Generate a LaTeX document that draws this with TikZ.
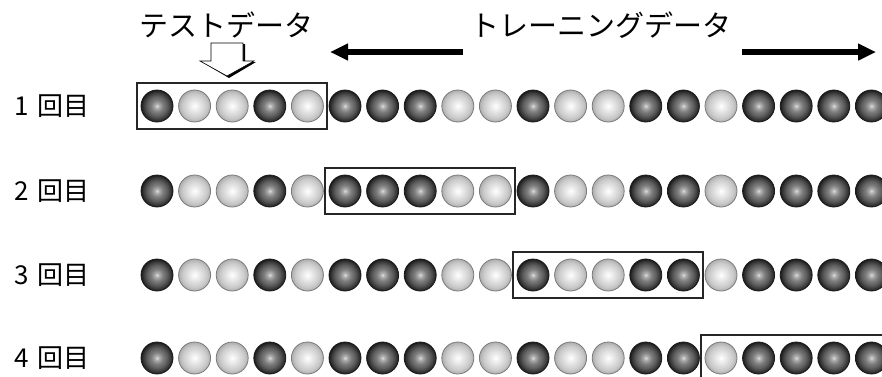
\documentclass[tikz,border=0pt]{standalone}
\usepackage{fontspec}
\setmainfont{Noto Sans CJK JP}
\usetikzlibrary{arrows.meta,fit}
\pgfdeclareradialshading{darkball}{\pgfpoint{0bp}{0bp}}{color(0bp)=(white!88!black); color(3bp)=(white!70!black); color(9bp)=(black!50); color(16bp)=(black!64); color(22bp)=(black!80); color(25bp)=(black!90); color(100bp)=(black!90)}
\pgfdeclareradialshading{lightball}{\pgfpoint{0bp}{0bp}}{color(0bp)=(white); color(8bp)=(white!91!black); color(19bp)=(white!79!black); color(25bp)=(white!68!black); color(100bp)=(white!68!black)}
\tikzset{
  ball/.style={circle, minimum size=32pt, inner sep=0pt},
  dk/.style={ball, shading=darkball, draw=black!90, line width=0.8pt},
  lt/.style={ball, shading=lightball, draw=black!52, line width=0.8pt},
  foldbox/.style={draw=black!85, line width=2pt, inner xsep=3.5pt, inner ysep=7pt},
  title/.style={font=\fontsize{29}{29}\selectfont, inner sep=0pt},
  rowlabel/.style={font=\fontsize{26}{26}\selectfont, inner sep=0pt, anchor=west},
  bigarrow/.style={line width=6pt, -{Triangle[length=18pt,width=16pt]}}
}
\begin{document}
\begin{tikzpicture}[x=1pt,y=-1pt]
\useasboundingbox (0,0) rectangle (882,376);
\clip (0,0) rectangle (882,376);
% titles
\node[title] (test) at (226,25) {テストデータ};
\node[title] (train) at (601,25) {トレーニングデータ};
\coordinate (la) at (463,52); \coordinate (lb) at (330,52);
\coordinate (ra) at (742,52); \coordinate (rb) at (876,52);
\draw[bigarrow] (la) -- (lb);
\draw[bigarrow] (ra) -- (rb);
% hollow down arrow with shadow
\fill[black] (213,44) -- (245,44) -- (245,62) -- (256,62) -- (229,78) -- (202,62) -- (213,62) -- cycle;
\draw[fill=white, line width=0.6pt] (211,43) -- (243,43) -- (243,61) -- (254,61) -- (227,76) -- (200,61) -- (211,61) -- cycle;
% rows
\foreach \r/\y in {1/106,2/191,3/275,4/358}{
  \node[rowlabel] (lab\r) at (14,\y) {\r\hspace{0.35em}回目};
  \foreach \t [count=\i] in {dk,lt,lt,dk,lt,dk,dk,dk,lt,lt,dk,lt,lt,dk,dk,lt,dk,dk,dk,dk}{
    \node[\t] (b\r-\i) at ({157+37.6*(\i-1)},\y) {};
  }
}
\node[foldbox, fit=(b1-1)(b1-5)] (box1) {};
\node[foldbox, fit=(b2-6)(b2-10)] (box2) {};
\node[foldbox, fit=(b3-11)(b3-15)] (box3) {};
\node[foldbox, fit=(b4-16)(b4-20)] (box4) {};
\end{tikzpicture}
\end{document}
